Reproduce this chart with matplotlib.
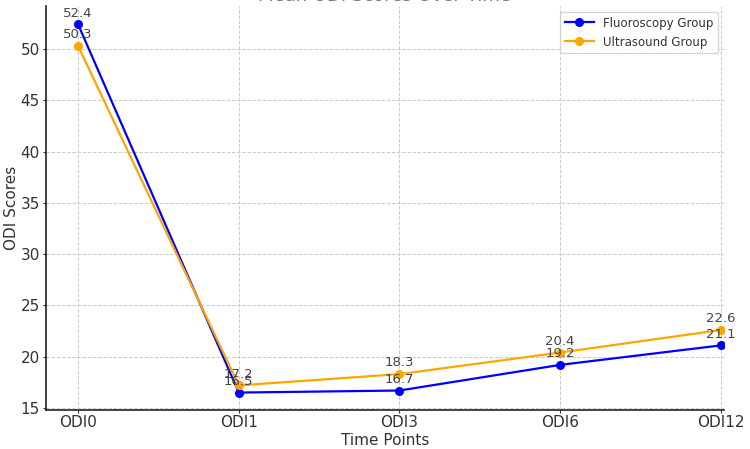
import matplotlib
matplotlib.use("Agg")
import matplotlib.pyplot as plt

time_points = ["ODI0", "ODI1", "ODI3", "ODI6", "ODI12"]
fluoroscopy = [52.4, 16.5, 16.7, 19.2, 21.1]
ultrasound = [50.3, 17.2, 18.3, 20.4, 22.6]

fig = plt.figure(figsize=(7.5, 4.49), dpi=100)
ax = fig.add_axes([46/750, 39/449, (724-46)/750, (443-39)/449])

x = list(range(len(time_points)))
ax.plot(x, fluoroscopy, color="#0000ff", marker="o", lw=1.6, ms=5.5, label="Fluoroscopy Group", zorder=3)
ax.plot(x, ultrasound, color="#ffa500", marker="o", lw=1.6, ms=5.5, label="Ultrasound Group", zorder=3)

for xi, v in zip(x, fluoroscopy):
    ax.annotate(f"{v}", (xi, v), textcoords="offset points", xytext=(0, 3.5),
                ha="center", va="bottom", fontsize=9.5, color="#444444")
for xi, v in zip(x, ultrasound):
    ax.annotate(f"{v}", (xi, v), textcoords="offset points", xytext=(0, 3.5),
                ha="center", va="bottom", fontsize=9.5, color="#444444")

ax.set_xticks(x)
ax.set_xticklabels(time_points)
ax.set_xlim(-0.2, 4.02)
ax.set_ylim(14.8, 54.2)
ax.set_yticks([15, 20, 25, 30, 35, 40, 45, 50])
ax.tick_params(labelsize=11, colors="#333333", length=2.5, pad=2)
ax.tick_params(axis="x", pad=1)
ax.set_xlabel("Time Points", fontsize=11, color="#333333", labelpad=2)
ax.set_ylabel("ODI Scores", fontsize=11, color="#333333", labelpad=1)
ax.grid(True, linestyle="--", color="#cccccc", lw=0.7)
ax.set_axisbelow(True)
for s in ["top", "right"]:
    ax.spines[s].set_visible(False)
for s in ["left", "bottom"]:
    ax.spines[s].set_color("#222222")
    ax.spines[s].set_linewidth(1.2)

leg = ax.legend(loc="upper right", fontsize=8.5, frameon=True, borderaxespad=0.5,
                handlelength=2.4)
leg.get_frame().set_edgecolor("#cccccc")
for t in leg.get_texts():
    t.set_color("#333333")

fig.text((46 + 724) / 2 / 750, 1 - 1/449, "Mean ODI Scores Over Time",
         ha="center", va="baseline", fontsize=13, color="#777777")

fig.savefig("out.png", dpi=100)
